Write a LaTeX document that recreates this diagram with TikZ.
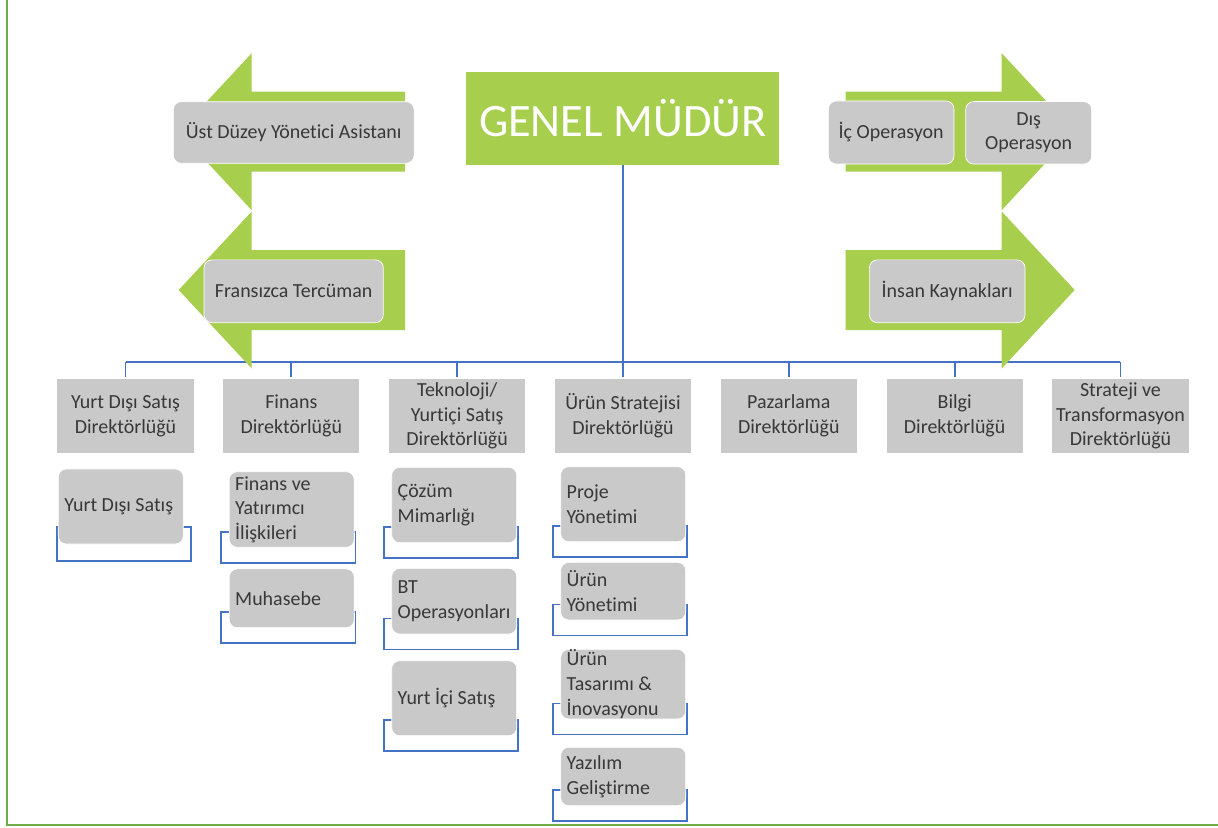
\documentclass[tikz,border=0pt]{standalone}
\usepackage{fontspec}
\setmainfont{Carlito}[Ligatures={NoCommon}]
\usetikzlibrary{calc,backgrounds}

\definecolor{gmgreen}{RGB}{168,206,78}
\definecolor{framegreen}{RGB}{112,173,71}
\definecolor{boxgray}{RGB}{201,201,201}
\definecolor{linkblue}{RGB}{68,114,196}
\definecolor{textgray}{RGB}{56,56,56}

\tikzset{
  boxfont/.style={font=\fontsize{14.2}{17.5}\selectfont},
  dirbox/.style={boxfont, fill=boxgray, text=textgray, align=center, minimum width=3.4cm, minimum height=1.85cm, inner sep=0pt},
  subbox/.style={boxfont, fill=boxgray, draw=white, line width=0.5pt, rounded corners=0.2cm, text=textgray, align=flush left, text width=2.825cm, inner xsep=0.15cm, inner ysep=0pt},
  sidebox/.style={boxfont, fill=boxgray, draw=white, line width=0.5pt, rounded corners=0.2cm, text=textgray, align=center, inner sep=0pt},
  conn/.style={draw=linkblue, line width=1.4pt},
  bracket/.style={draw=linkblue, line width=1.2pt}
}

\begin{document}
\begin{tikzpicture}[x=0.025cm, y=-0.025cm]

  \useasboundingbox (0,0) rectangle (1218,828);
  \draw[framegreen, line width=2.1pt] (7,0) -- (7,825) -- (1218,825);

  \node[fill=gmgreen, text=white, minimum width=7.825cm, minimum height=2.325cm, font=\fontsize{33}{40}\selectfont] (gm) at (622.8,118.5) {GENEL MÜDÜR};

  \foreach \txt [count=\i] in {{Yurt Dışı Satış\\Direktörlüğü}, {Finans\\Direktörlüğü}, {Teknoloji/\\Yurtiçi Satış\\Direktörlüğü}, {Ürün Stratejisi\\Direktörlüğü}, {Pazarlama\\Direktörlüğü}, {Bilgi\\Direktörlüğü}, {Strateji ve\\Transformasyon\\Direktörlüğü}}
    \node[dirbox] (d\i) at ({125.5+165.83*(\i-1)},416) {\txt};

  \coordinate (bus) at (0,362);
  \draw[conn] (gm.south) -- (gm.south |- bus);
  \draw[conn] (d1.north |- bus) -- (d7.north |- bus);
  \foreach \i in {1,...,7}
    \draw[conn] (d\i.north |- bus) -- ($(d\i.north)+(0,-2)$);

  \foreach \y in {131.7,290} {
    \fill[gmgreen] (405,\y-40) -- (251.7,\y-40) -- (251.7,\y-78.5) -- (178.7,\y) -- (251.7,\y+78.5) -- (251.7,\y+40) -- (405,\y+40) -- cycle;
    \fill[gmgreen] (845.7,\y-40) -- (1001.7,\y-40) -- (1001.7,\y-78.5) -- (1074.7,\y) -- (1001.7,\y+78.5) -- (1001.7,\y+40) -- (845.7,\y+40) -- cycle;
  }

  \node[sidebox, minimum width=6.02cm, minimum height=1.54cm] (asst) at (293.7,132.5) {Üst Düzey Yönetici Asistanı};
  \node[sidebox, minimum width=4.48cm, minimum height=1.57cm] (trans) at (293.7,291.3) {Fransızca Tercüman};
  \node[sidebox, minimum width=3.14cm, minimum height=1.575cm] (icop) at (891.2,132.5) {İç Operasyon};
  \node[sidebox, minimum width=3.15cm, minimum height=1.56cm] (disop) at (1028.7,132.8) {Dış\\Operasyon};
  \node[sidebox, minimum width=3.89cm, minimum height=1.57cm] (hr) at (947.2,291.3) {İnsan Kaynakları};

  \node[subbox, minimum height=1.875cm] (s11) at (120.8,506.5) {Yurt Dışı Satış};
  \node[subbox, minimum height=1.89cm] (s21) at (291.7,509.5) {Finans ve\\Yatırımcı\\İlişkileri};
  \node[subbox, minimum height=1.47cm] (s22) at (291.7,598.3) {Muhasebe};
  \node[subbox, minimum height=1.885cm] (s31) at (454.2,505) {Çözüm\\Mimarlığı};
  \node[subbox, minimum height=1.64cm] (s32) at (454.2,601.2) {BT\\Operasyonları};
  \node[subbox, minimum height=1.875cm] (s33) at (454.2,698.2) {Yurt İçi Satış};
  \node[subbox, minimum height=1.875cm] (s41) at (623.2,504.2) {Proje\\Yönetimi};
  \node[subbox, minimum height=1.44cm] (s42) at (623.2,591.2) {Ürün\\Yönetimi};
  \node[subbox, minimum height=1.74cm] (s43) at (623.2,684.2) {Ürün\\Tasarımı \&\\İnovasyonu};
  \node[subbox, minimum height=1.46cm] (s44) at (623.2,776.5) {Yazılım\\Geliştirme};

  \begin{scope}[on background layer]
    \draw[bracket] ([xshift=-0.025cm,yshift=0.43cm]s11.south west) rectangle ([xshift=0.185cm,yshift=-0.41cm]s11.south east);
    \foreach \s in {s21,s22,s31,s32,s33,s41,s42,s43,s44}
      \draw[bracket] ([xshift=-0.19cm,yshift=0.4cm]\s.south west) rectangle ([xshift=0.025cm,yshift=-0.375cm]\s.south east);
  \end{scope}

\end{tikzpicture}
\end{document}
